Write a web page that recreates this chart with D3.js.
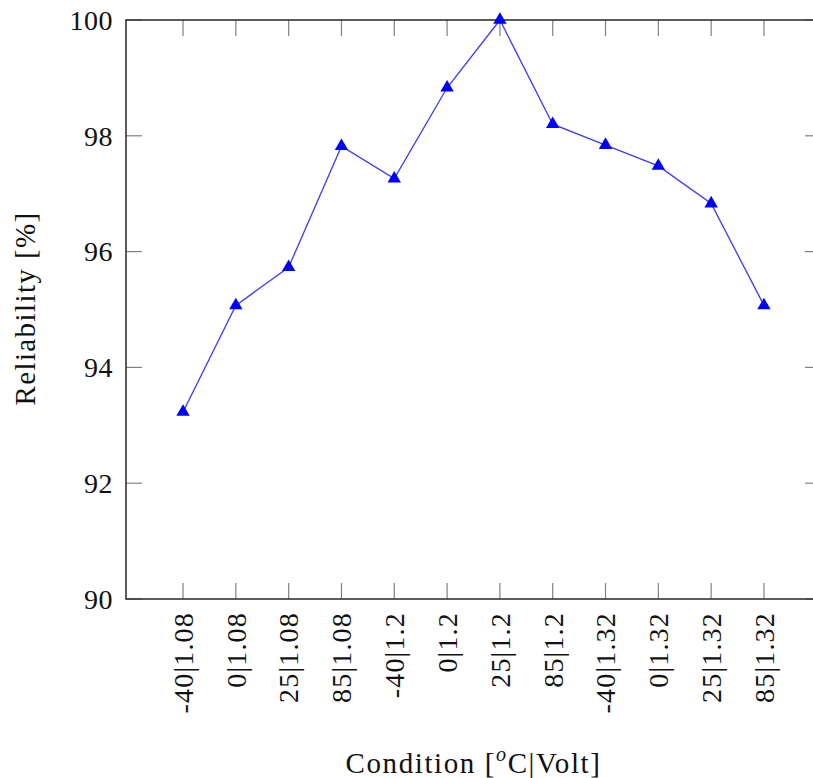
<!DOCTYPE html>
<html><head><meta charset="utf-8">
<script src="https://cdn.jsdelivr.net/npm/d3@7"></script>
<style>
html,body{margin:0;padding:0;background:#fff;overflow:hidden}
svg text{font-family:"Liberation Serif","DejaVu Serif",serif;fill:#111}
</style></head><body>
<script>
const categories = ["-40|1.08","0|1.08","25|1.08","85|1.08","-40|1.2","0|1.2","25|1.2","85|1.2","-40|1.32","0|1.32","25|1.32","85|1.32"];
const reliability = [93.23, 95.07, 95.73, 97.82, 97.26, 98.83, 100.0, 98.2, 97.84, 97.48, 96.83, 95.07];
const yTicks = [90, 92, 94, 96, 98, 100];

(function(){
const W = 813, H = 778;
const pL = 126, pR = 821, pT = 20, pB = 599;
const svg = d3.select("body").append("svg").attr("width", W).attr("height", H);

const step = (pR - pL) / (categories.length - 1 + 2*1.08);
const x = d3.scalePoint().domain(categories).range([pL + 1.08*step, pR - 1.08*step]);
const y = d3.scaleLinear().domain([90, 100]).range([pB, pT]);

const tickLen = 16;
const gT = svg.append("g").attr("stroke", "#808080").attr("stroke-width", 1.2);
categories.forEach(c => {
  gT.append("line").attr("x1", x(c)).attr("x2", x(c)).attr("y1", pB).attr("y2", pB - tickLen);
  gT.append("line").attr("x1", x(c)).attr("x2", x(c)).attr("y1", pT).attr("y2", pT + tickLen);
});
yTicks.forEach(v => {
  gT.append("line").attr("x1", pL).attr("x2", pL + tickLen).attr("y1", y(v)).attr("y2", y(v));
  gT.append("line").attr("x1", pR).attr("x2", pR - tickLen).attr("y1", y(v)).attr("y2", y(v));
});

svg.append("rect").attr("x", pL).attr("y", pT).attr("width", pR - pL).attr("height", pB - pT)
  .attr("fill", "none").attr("stroke", "#333").attr("stroke-width", 1.6);

yTicks.forEach(v => {
  svg.append("text").attr("x", pL - 13).attr("y", y(v)).attr("dy", "0.35em")
    .attr("text-anchor", "end").attr("font-size", 28).attr("letter-spacing", 0.5).text(v);
});
categories.forEach(c => {
  svg.append("text").attr("transform", `translate(${x(c)},${pB + 13}) rotate(-90)`)
    .attr("dy", "0.35em").attr("text-anchor", "end").attr("font-size", 28)
    .attr("letter-spacing", 1.2).text(c);
});

svg.append("text").attr("transform", `translate(35,${(pT+pB)/2 - 1}) rotate(-90)`)
  .attr("text-anchor", "middle").attr("font-size", 29).attr("letter-spacing", 1.4).text("Reliability [%]");
const xt = svg.append("text").attr("x", (pL + pR)/2).attr("y", 773)
  .attr("text-anchor", "middle").attr("font-size", 29).attr("letter-spacing", 1.6);
xt.append("tspan").text("Condition [");
xt.append("tspan").attr("font-style", "italic").attr("font-size", 20).attr("dy", -12).text("o");
xt.append("tspan").attr("dy", 12).text("C|Volt]");

const line = d3.line().x((d, i) => x(categories[i])).y(d => y(d));
svg.append("path").datum(reliability).attr("d", line)
  .attr("fill", "none").attr("stroke", "#3a3aff").attr("stroke-width", 1.3);

const sym = d3.symbol().type(d3.symbolTriangle).size(78);
svg.append("g").selectAll("path").data(reliability).join("path")
  .attr("transform", (d, i) => `translate(${x(categories[i])},${y(d)})`)
  .attr("d", sym).attr("fill", "#0000ff");
})();
</script>
</body></html>
